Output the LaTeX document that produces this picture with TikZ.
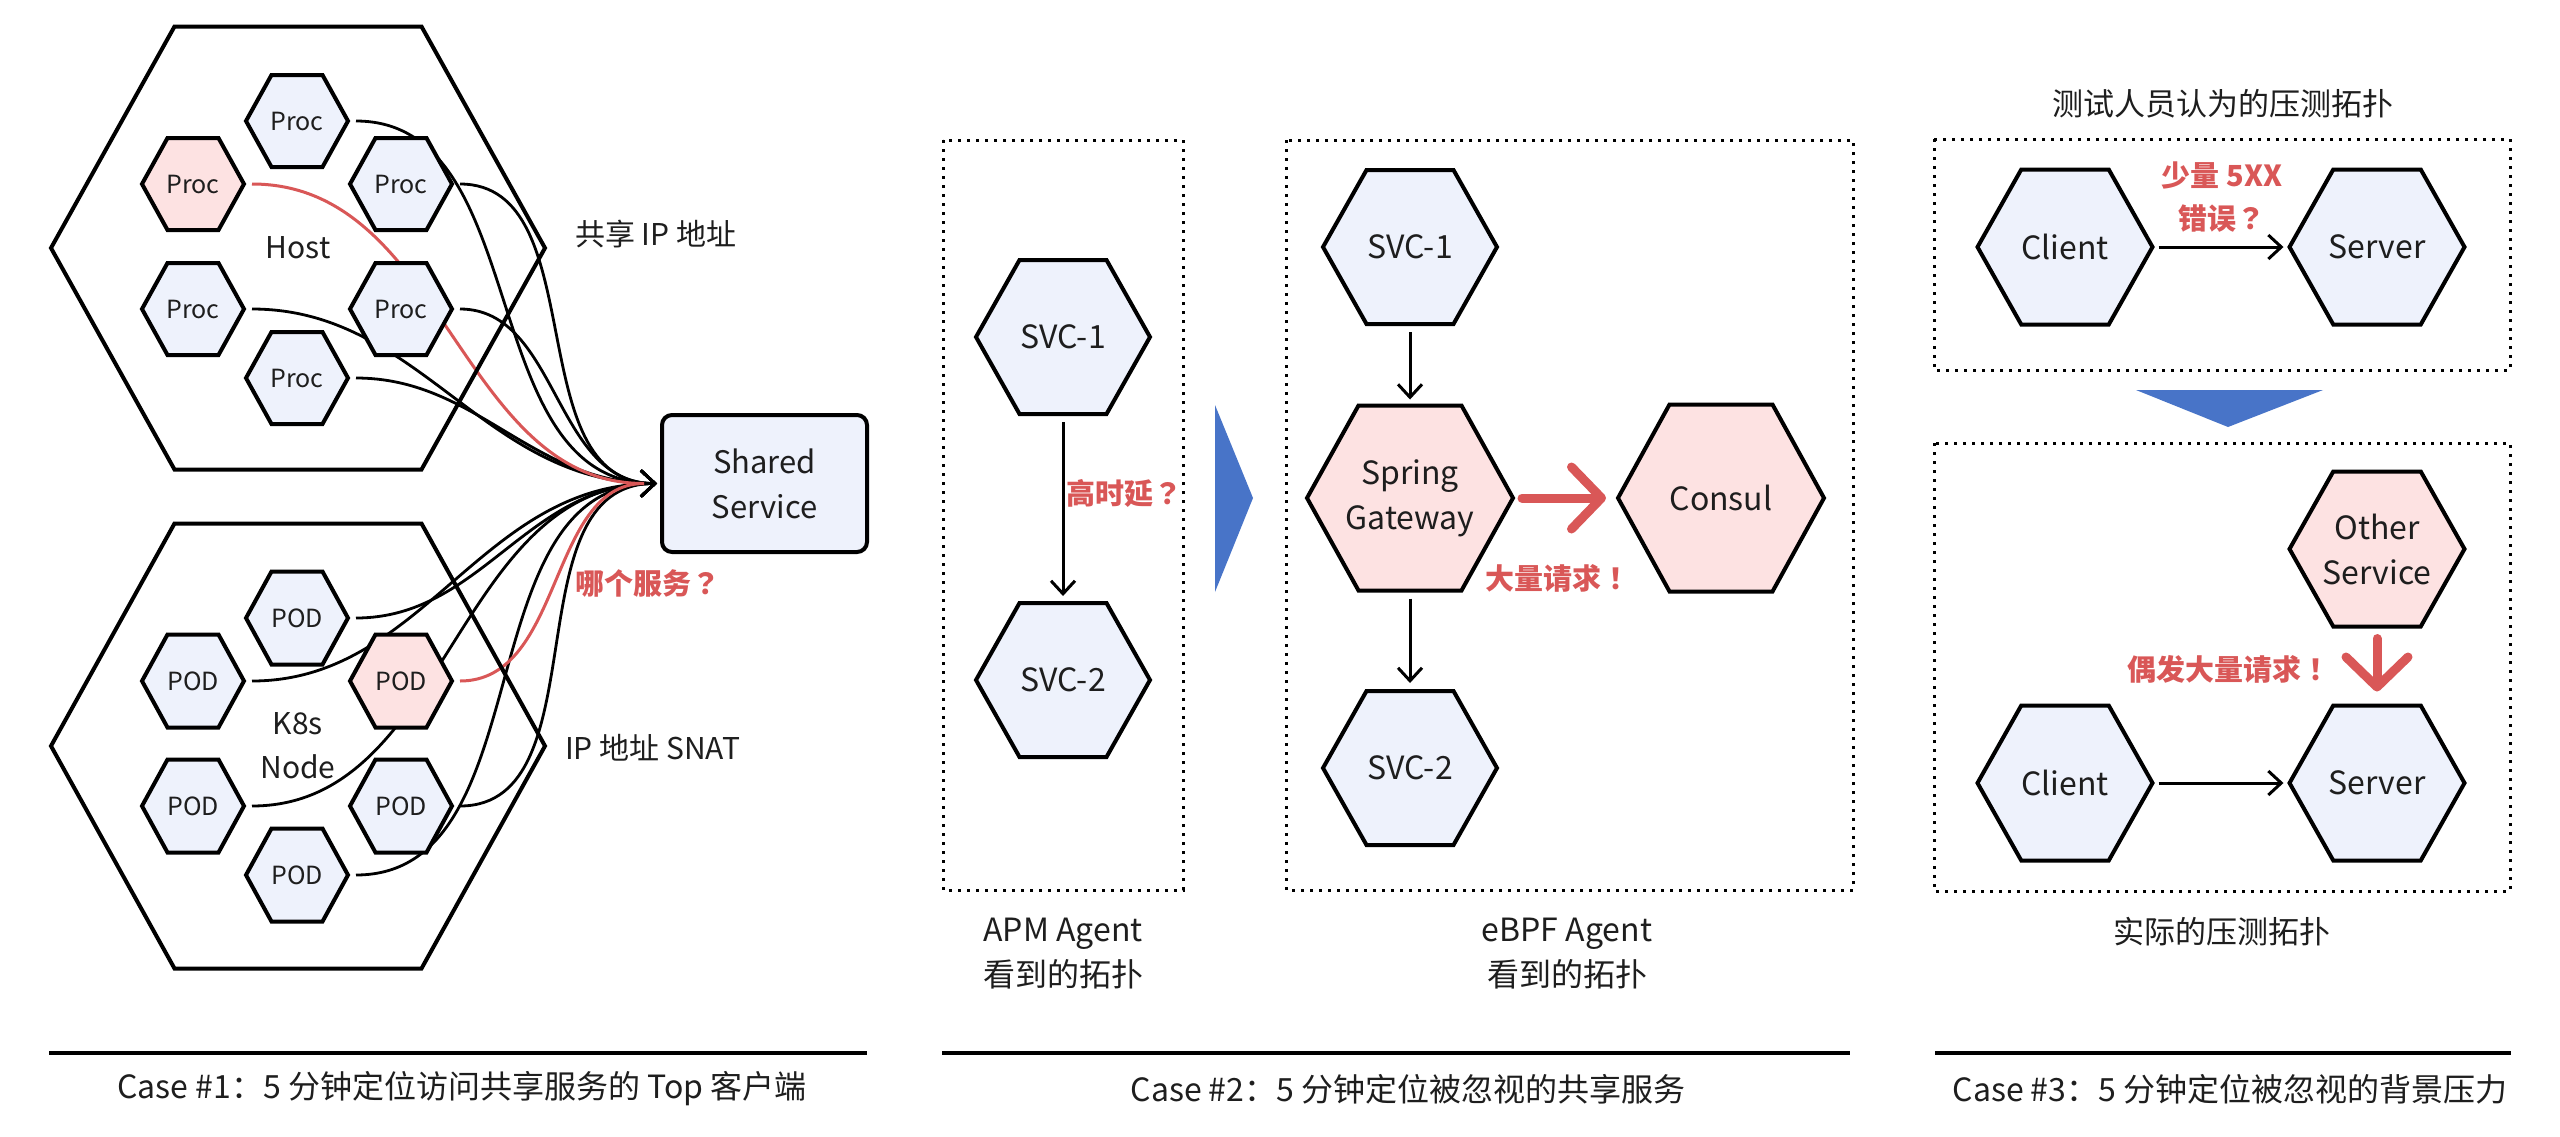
\documentclass[tikz,border=0pt]{standalone}
\usepackage{fontspec}
\setmainfont{Noto Sans CJK SC}
\newfontfamily\jpfont{Noto Sans CJK JP}
\usetikzlibrary{arrows.meta,backgrounds}
\definecolor{hexblue}{HTML}{EEF2FC}
\definecolor{hexpink}{HTML}{FDE2E2}
\definecolor{alert}{HTML}{D95757}
\definecolor{triblue}{HTML}{4874C8}
\definecolor{ink}{HTML}{1E1E1E}
\newcommand\qm{{\jpfont ？}}
\newcommand\ex{{\jpfont ！}}
% #1 name, #2 x, #3 y (image, downwards), #4 width, #5 height, #6 fill, #7 font style, #8 text
\newcommand\hexnode[8]{%
  \path[hexline,fill=#6] ({#2-#4/2},{-#3}) -- ({#2-#4/4},{-#3+#5/2}) -- ({#2+#4/4},{-#3+#5/2})
     -- ({#2+#4/2},{-#3}) -- ({#2+#4/4},{-#3-#5/2}) -- ({#2-#4/4},{-#3-#5/2}) -- cycle;
  \node[hexlabel,#7,minimum width=#4pt,minimum height=#5pt] (#1) at (#2,{-#3}) {#8};}
\begin{document}
\begin{tikzpicture}[x=1pt,y=1pt,
  hexline/.style={draw=black,line width=4pt},
  hexlabel/.style={inner sep=0pt,outer sep=0pt,align=center,text=ink},
  fsmall/.style={font=\fontsize{25}{30}\selectfont},
  fmid/.style={font=\fontsize{30}{44}\selectfont},
  fbig/.style={font=\fontsize{32}{45}\selectfont},
  redlbl/.style={text=alert,font=\bfseries\fontsize{29}{43}\selectfont,align=center,inner sep=0pt},
  plain/.style={text=ink,align=center,inner sep=0pt},
  fan/.style={line width=2.8pt,shorten <=8pt,shorten >=3pt,-{Straight Barb[length=14pt,width=26pt]}},
  redfan/.style={draw=alert,line width=3pt,shorten <=8pt,shorten >=16pt},
  conn/.style={line width=3pt,-{Straight Barb[length=13pt,width=24pt]}},
  bigarrow/.style={draw=alert,line width=9pt,line cap=round,-{Straight Barb[length=30pt,width=62pt,round]}},
  dotbox/.style={draw=black,line width=3pt,dash pattern=on 3pt off 6pt},
  footline/.style={line width=3.5pt}]
\useasboundingbox (0,0) rectangle (2560,-1136);

%% ---------------- Case 1 ----------------
\hexnode{host}{298}{248}{494}{443}{none}{fmid}{Host}
\hexnode{k8s}{298}{746}{494}{445}{none}{fmid}{K8s\\Node}

\hexnode{procA}{297}{121}{102}{92}{hexblue}{fsmall}{Proc}
\hexnode{procP}{193}{184}{102}{92}{hexpink}{fsmall}{Proc}
\hexnode{procB}{401}{184}{102}{92}{hexblue}{fsmall}{Proc}
\hexnode{procC}{193}{309}{102}{92}{hexblue}{fsmall}{Proc}
\hexnode{procD}{401}{309}{102}{92}{hexblue}{fsmall}{Proc}
\hexnode{procE}{297}{378}{102}{92}{hexblue}{fsmall}{Proc}

\hexnode{podA}{297}{618}{102}{93}{hexblue}{fsmall}{POD}
\hexnode{podB}{193}{681}{102}{93}{hexblue}{fsmall}{POD}
\hexnode{podP}{401}{681}{102}{93}{hexpink}{fsmall}{POD}
\hexnode{podC}{193}{806}{102}{93}{hexblue}{fsmall}{POD}
\hexnode{podD}{401}{806}{102}{93}{hexblue}{fsmall}{POD}
\hexnode{podE}{297}{875}{102}{93}{hexblue}{fsmall}{POD}

\node[draw=black,line width=4pt,rounded corners=10pt,fill=hexblue,minimum width=205pt,
      minimum height=137pt,align=center,text=ink,font=\fontsize{31}{45}\selectfont] (shared) at (764.5,-483.5) {Shared\\Service};

\begin{pgfonlayer}{background}
  \fill[white] (0,0) rectangle (2560,-1136);
  \foreach \n in {procA,procB,procC,procD,procE,podA,podB,podC,podD,podE}
    \draw[fan] (\n.east) to[out=0,in=180] (shared.west);
  \draw[redfan] (procP.east) to[out=0,in=180] (shared.west);
  \draw[redfan] (podP.east) to[out=0,in=180] (shared.west);
\end{pgfonlayer}

\node[plain,fmid,anchor=west] (lblShare) at (575,-234) {共享 IP 地址};
\node[plain,fmid,anchor=west] (lblSnat) at (565,-748) {IP 地址 SNAT};
\node[redlbl,anchor=west] (lblWhich) at (575,-583) {哪个服务\qm};

\draw[footline] (49,-1053) -- (867,-1053);
\node[plain,font=\fontsize{32}{40}\selectfont] (cap1) at (462,-1089) {Case \#1：5 分钟定位访问共享服务的 Top 客户端};

%% ---------------- Case 2 ----------------
\draw[dotbox] (943,-140) rectangle (1183,-890);
\draw[dotbox] (1286,-140) rectangle (1853,-890);

\hexnode{svcL1}{1063}{337}{174}{154}{hexblue}{fbig}{SVC-1}
\hexnode{svcL2}{1063}{680}{174}{154}{hexblue}{fbig}{SVC-2}
\draw[conn,shorten <=8pt,shorten >=7pt] (svcL1.south) -- (svcL2.north);
\node[redlbl,anchor=west] (lblLat) at (1066,-493) {高时延\qm};

\fill[triblue] (1215,-405) -- (1253,-498) -- (1215,-592) -- cycle;

\hexnode{svcR1}{1410}{247}{174}{154}{hexblue}{fbig}{SVC-1}
\hexnode{gw}{1410}{498}{206}{185}{hexpink}{fbig}{Spring\\Gateway}
\hexnode{consul}{1721}{498}{206}{187}{hexpink}{fbig}{Consul}
\hexnode{svcR2}{1410}{768}{174}{154}{hexblue}{fbig}{SVC-2}
\draw[conn,shorten <=8pt,shorten >=6pt] (svcR1.south) -- (gw.north);
\draw[conn,shorten <=8pt,shorten >=8pt] (gw.south) -- (svcR2.north);
\draw[bigarrow,shorten <=9pt,shorten >=12pt] (gw.east) -- (consul.west);
\node[redlbl] (lblMany) at (1558,-578) {大量请求\ex};

\node[plain,fbig] (capApm) at (1063,-954) {APM Agent\\看到的拓扑};
\node[plain,fbig] (capEbpf) at (1567,-954) {eBPF Agent\\看到的拓扑};

\draw[footline] (942,-1053) -- (1850,-1053);
\node[plain,font=\fontsize{32}{40}\selectfont] (cap2) at (1408,-1089) {Case \#2：5 分钟定位被忽视的共享服务};

%% ---------------- Case 3 ----------------
\node[plain,font=\fontsize{31}{40}\selectfont] (title3) at (2223,-104) {测试人员认为的压测拓扑};
\draw[dotbox] (1934,-139) rectangle (2510,-370);
\hexnode{clientT}{2065}{247}{175}{155}{hexblue}{fbig}{Client}
\hexnode{serverT}{2377}{247}{175}{155}{hexblue}{fbig}{Server}
\draw[conn,shorten <=6pt,shorten >=6pt] (clientT.east) -- (serverT.west);
\node[redlbl] (lbl5xx) at (2222,-197) {少量 5XX\\错误\qm};

\fill[triblue] (2136,-390) -- (2323,-390) -- (2228,-427) -- cycle;

\draw[dotbox] (1934,-443) rectangle (2510,-891);
\hexnode{other}{2377}{549}{175}{155}{hexpink}{fbig}{Other\\Service}
\hexnode{clientB}{2065}{783}{175}{155}{hexblue}{fbig}{Client}
\hexnode{serverB}{2377}{783}{175}{155}{hexblue}{fbig}{Server}
\draw[bigarrow,shorten <=12pt,shorten >=14pt] (other.south) -- (serverB.north);
\node[redlbl] (lblBurst) at (2229,-669) {偶发大量请求\ex};
\draw[conn,shorten <=6pt,shorten >=6pt] (clientB.east) -- (serverB.west);
\node[plain,font=\fontsize{31}{40}\selectfont] (title3b) at (2222,-932) {实际的压测拓扑};

\draw[footline] (1935,-1053) -- (2511,-1053);
\node[plain,font=\fontsize{32}{40}\selectfont] (cap3) at (2230,-1089) {Case \#3：5 分钟定位被忽视的背景压力};
\end{tikzpicture}
\end{document}
